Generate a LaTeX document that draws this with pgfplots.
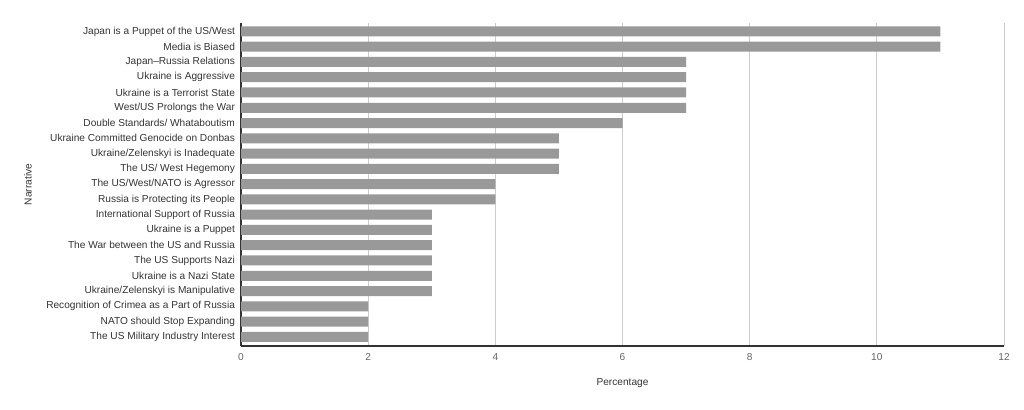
\documentclass[border=0pt]{standalone}
\usepackage{pgfplots}
\pgfplotsset{compat=1.18}
\usepackage{fontspec}
\setmainfont{Liberation Sans}
\definecolor{barc}{HTML}{999999}
\definecolor{txt}{HTML}{333333}
\definecolor{tick}{HTML}{666666}
\definecolor{gridc}{HTML}{CCCCCC}
\begin{document}
\begin{tikzpicture}
\useasboundingbox (0,0) rectangle (768pt,307.5pt);
\begin{axis}[
  at={(180.75pt,48pt)}, anchor=south west,
  scale only axis,
  width=572.25pt, height=242.25pt,
  xbar, bar width=7.5pt,
  xmin=0, xmax=12,
  ymin=-0.55, ymax=20.6,
  y dir=reverse,
  ytick={0,...,20},
  yticklabels={
    Japan is a Puppet of the US/West,
    Media is Biased,
    Japan–Russia Relations,
    Ukraine is Aggressive,
    Ukraine is a Terrorist State,
    West/US Prolongs the War,
    Double Standards/ Whataboutism,
    Ukraine Committed Genocide on Donbas,
    Ukraine/Zelenskyi is Inadequate,
    The US/ West Hegemony,
    The US/West/NATO is Agressor,
    Russia is Protecting its People,
    International Support of Russia,
    Ukraine is a Puppet,
    The War between the US and Russia,
    The US Supports Nazi,
    Ukraine is a Nazi State,
    Ukraine/Zelenskyi is Manipulative,
    Recognition of Crimea as a Part of Russia,
    NATO should Stop Expanding,
    The US Military Industry Interest},
  xtick={0,2,...,12},
  /pgf/number format/assume math mode=true,
  tick style={draw=none},
  major tick length=0pt,
  yticklabel style={font=\fontsize{7.6pt}{9pt}\selectfont, text=txt, xshift=-1pt},
  xticklabel style={font=\fontsize{7.6pt}{9pt}\selectfont, text=tick, yshift=-2pt},
  xmajorgrids, grid style={gridc, line width=0.6pt},
  axis x line*=bottom, axis y line*=left,
  axis line style={draw=txt, line width=0.8pt, -},
  xlabel={Percentage}, ylabel={Narrative},
  xlabel style={at={(axis description cs:0.5,-0.1146)}, anchor=center, font=\fontsize{7.6pt}{9pt}\selectfont, text=txt},
  ylabel style={at={(axis description cs:-0.2792,0.5)}, anchor=center, font=\fontsize{7.6pt}{9pt}\selectfont, text=txt},
]
\addplot[fill=barc, draw=none] coordinates {
(11,0) (11,1) (7,2) (7,3) (7,4) (7,5) (6,6) (5,7) (5,8) (5,9)
(4,10) (4,11) (3,12) (3,13) (3,14) (3,15) (3,16) (3,17) (2,18) (2,19) (2,20)};
\end{axis}
\end{tikzpicture}
\end{document}
